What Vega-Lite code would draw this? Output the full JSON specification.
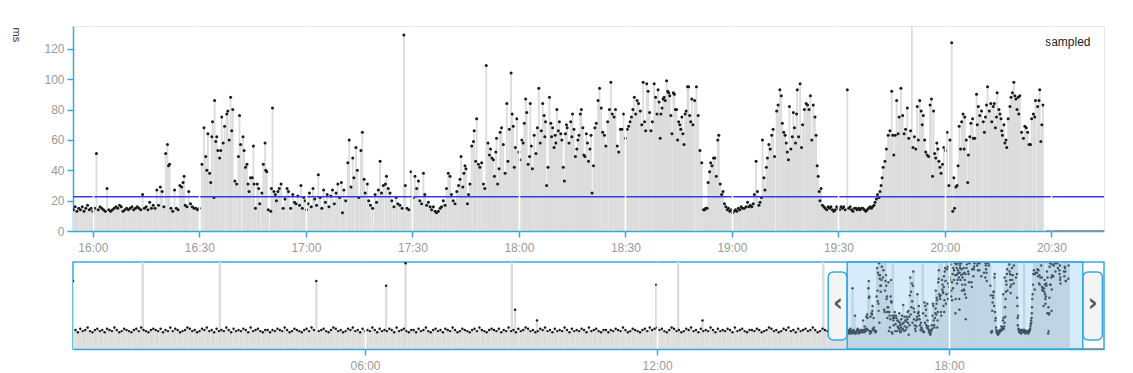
{
"$schema":"https://vega.github.io/schema/vega-lite/v6.json",
"padding":{"left":9,"top":25,"right":5,"bottom":5},
"background":"white",
"bounds":"flush",
"spacing":31,
"config":{"font":"Liberation Sans","axis":{"domainColor":"#36a9e1","domainWidth":1.5,"tickColor":"#36a9e1","tickWidth":1.5,"tickSize":6,"labelColor":"#9a9a9a","labelFontSize":12,"labelFont":"Liberation Sans","grid":false}},
"datasets":{
"idle":[{"m":1228.5,"v":0},{"m":1271,"v":0}],
"d":[
{"m":0,"v":57},{"m":86,"v":95},{"m":181,"v":90},{"m":300,"v":57},{"m":386,"v":53},{"m":410,"v":72},{"m":541,"v":95},{"m":545,"v":33},{"m":572,"v":24},{"m":719,"v":54},{"m":746,"v":92},{"m":776,"v":24},{"m":925,"v":90},
{"m":3,"v":16},{"m":6,"v":14},{"m":9,"v":17},{"m":12,"v":15},{"m":15,"v":16},{"m":18,"v":18},{"m":21,"v":15},{"m":24,"v":14},{"m":27,"v":16},{"m":30,"v":17},{"m":33,"v":15},{"m":36,"v":16},{"m":39,"v":14},{"m":42,"v":17},{"m":45,"v":16},{"m":48,"v":15},{"m":51,"v":18},{"m":54,"v":16},{"m":57,"v":14},{"m":60,"v":15},
{"m":63,"v":17},{"m":66,"v":16},{"m":69,"v":15},{"m":72,"v":14},{"m":75,"v":16},{"m":78,"v":17},{"m":81,"v":15},{"m":84,"v":18},{"m":87,"v":16},{"m":90,"v":15},{"m":93,"v":14},{"m":96,"v":16},{"m":99,"v":17},{"m":102,"v":16},{"m":105,"v":15},{"m":108,"v":17},{"m":111,"v":14},{"m":114,"v":16},{"m":117,"v":15},{"m":120,"v":18},
{"m":123,"v":15},{"m":126,"v":17},{"m":129,"v":16},{"m":132,"v":14},{"m":135,"v":15},{"m":138,"v":16},{"m":141,"v":18},{"m":144,"v":17},{"m":147,"v":15},{"m":150,"v":16},{"m":153,"v":14},{"m":156,"v":15},{"m":159,"v":17},{"m":162,"v":16},{"m":165,"v":18},{"m":168,"v":15},{"m":171,"v":16},{"m":174,"v":14},{"m":177,"v":17},{"m":180,"v":15},
{"m":183,"v":16},{"m":186,"v":15},{"m":189,"v":18},{"m":192,"v":16},{"m":195,"v":14},{"m":198,"v":17},{"m":201,"v":15},{"m":204,"v":16},{"m":207,"v":15},{"m":210,"v":17},{"m":213,"v":16},{"m":216,"v":14},{"m":219,"v":18},{"m":222,"v":15},{"m":225,"v":16},{"m":228,"v":17},{"m":231,"v":15},{"m":234,"v":14},{"m":237,"v":16},{"m":240,"v":16},
{"m":243,"v":14},{"m":246,"v":16},{"m":249,"v":15},{"m":252,"v":17},{"m":255,"v":16},{"m":258,"v":15},{"m":261,"v":18},{"m":264,"v":16},{"m":267,"v":14},{"m":270,"v":15},{"m":273,"v":17},{"m":276,"v":16},{"m":279,"v":15},{"m":282,"v":14},{"m":285,"v":16},{"m":288,"v":17},{"m":291,"v":15},{"m":294,"v":18},{"m":297,"v":16},{"m":303,"v":15},
{"m":306,"v":16},{"m":309,"v":17},{"m":312,"v":15},{"m":315,"v":14},{"m":318,"v":16},{"m":321,"v":18},{"m":324,"v":17},{"m":327,"v":15},{"m":330,"v":16},{"m":333,"v":14},{"m":336,"v":15},{"m":339,"v":17},{"m":342,"v":16},{"m":345,"v":18},{"m":348,"v":15},{"m":351,"v":16},{"m":354,"v":14},{"m":357,"v":17},{"m":360,"v":15},{"m":363,"v":16},
{"m":366,"v":15},{"m":369,"v":18},{"m":372,"v":16},{"m":375,"v":14},{"m":378,"v":17},{"m":381,"v":15},{"m":384,"v":16},{"m":387,"v":15},{"m":390,"v":17},{"m":393,"v":16},{"m":396,"v":14},{"m":399,"v":18},{"m":402,"v":15},{"m":405,"v":16},{"m":408,"v":17},{"m":411,"v":15},{"m":414,"v":14},{"m":417,"v":16},{"m":420,"v":16},{"m":423,"v":14},
{"m":426,"v":17},{"m":429,"v":15},{"m":432,"v":16},{"m":435,"v":18},{"m":438,"v":15},{"m":441,"v":14},{"m":444,"v":16},{"m":447,"v":17},{"m":450,"v":15},{"m":453,"v":16},{"m":456,"v":14},{"m":459,"v":17},{"m":462,"v":16},{"m":465,"v":15},{"m":468,"v":18},{"m":471,"v":16},{"m":474,"v":14},{"m":477,"v":15},{"m":480,"v":17},{"m":483,"v":16},
{"m":486,"v":15},{"m":489,"v":14},{"m":492,"v":16},{"m":495,"v":17},{"m":498,"v":15},{"m":501,"v":18},{"m":504,"v":16},{"m":507,"v":15},{"m":510,"v":14},{"m":513,"v":16},{"m":516,"v":17},{"m":519,"v":16},{"m":522,"v":15},{"m":525,"v":17},{"m":528,"v":14},{"m":531,"v":16},{"m":534,"v":15},{"m":537,"v":18},{"m":540,"v":15},{"m":543,"v":16},
{"m":546,"v":14},{"m":549,"v":17},{"m":552,"v":15},{"m":555,"v":16},{"m":558,"v":18},{"m":561,"v":17},{"m":564,"v":15},{"m":567,"v":16},{"m":570,"v":14},{"m":573,"v":15},{"m":576,"v":17},{"m":579,"v":16},{"m":582,"v":18},{"m":585,"v":15},{"m":588,"v":16},{"m":591,"v":14},{"m":594,"v":17},{"m":597,"v":15},{"m":600,"v":16},{"m":603,"v":15},
{"m":606,"v":18},{"m":609,"v":16},{"m":612,"v":14},{"m":615,"v":17},{"m":618,"v":15},{"m":621,"v":16},{"m":624,"v":15},{"m":627,"v":17},{"m":630,"v":16},{"m":633,"v":14},{"m":636,"v":18},{"m":639,"v":15},{"m":642,"v":16},{"m":645,"v":17},{"m":648,"v":15},{"m":651,"v":14},{"m":654,"v":16},{"m":657,"v":16},{"m":660,"v":14},{"m":663,"v":16},
{"m":666,"v":15},{"m":669,"v":17},{"m":672,"v":16},{"m":675,"v":15},{"m":678,"v":18},{"m":681,"v":16},{"m":684,"v":14},{"m":687,"v":15},{"m":690,"v":17},{"m":693,"v":16},{"m":696,"v":15},{"m":699,"v":14},{"m":702,"v":16},{"m":705,"v":17},{"m":708,"v":15},{"m":711,"v":18},{"m":714,"v":16},{"m":717,"v":17},{"m":720,"v":18},{"m":723,"v":16},
{"m":726,"v":17},{"m":729,"v":15},{"m":732,"v":14},{"m":735,"v":16},{"m":738,"v":18},{"m":741,"v":17},{"m":744,"v":15},{"m":747,"v":16},{"m":750,"v":14},{"m":753,"v":15},{"m":756,"v":17},{"m":759,"v":16},{"m":762,"v":18},{"m":765,"v":15},{"m":768,"v":16},{"m":771,"v":14},{"m":774,"v":17},{"m":777,"v":15},{"m":780,"v":16},{"m":783,"v":15},
{"m":786,"v":18},{"m":789,"v":16},{"m":792,"v":14},{"m":795,"v":17},{"m":798,"v":15},{"m":801,"v":16},{"m":804,"v":15},{"m":807,"v":17},{"m":810,"v":16},{"m":813,"v":14},{"m":816,"v":18},{"m":819,"v":15},{"m":822,"v":16},{"m":825,"v":17},{"m":828,"v":15},{"m":831,"v":14},{"m":834,"v":16},{"m":837,"v":16},{"m":840,"v":15},{"m":843,"v":17},
{"m":846,"v":16},{"m":849,"v":14},{"m":852,"v":15},{"m":855,"v":16},{"m":858,"v":18},{"m":861,"v":17},{"m":864,"v":15},{"m":867,"v":16},{"m":870,"v":14},{"m":873,"v":15},{"m":876,"v":17},{"m":879,"v":16},{"m":882,"v":18},{"m":885,"v":15},{"m":888,"v":16},{"m":891,"v":14},{"m":894,"v":17},{"m":897,"v":15},{"m":900,"v":16},{"m":903,"v":17},
{"m":906,"v":15},{"m":909,"v":16},{"m":912,"v":18},{"m":915,"v":16},{"m":918,"v":14},{"m":921,"v":15},{"m":924,"v":17},{"m":927,"v":16},{"m":930,"v":15},{"m":933,"v":14},{"m":936,"v":16},{"m":939,"v":17},{"m":942,"v":15},{"m":945,"v":18},{"m":948,"v":16},{"m":951,"v":15},
{"m":954.5,"v":14},{"m":955,"v":16},{"m":955.5,"v":13},{"m":956,"v":15},{"m":956.5,"v":14},{"m":957,"v":16},{"m":957.5,"v":13},{"m":958,"v":15},{"m":958.5,"v":17},{"m":959,"v":14},{"m":959.5,"v":15},{"m":960,"v":13},{"m":960.5,"v":15},{"m":961,"v":51},{"m":961.5,"v":14},{"m":962,"v":16},{"m":962.5,"v":15},{"m":963,"v":14},{"m":963.5,"v":13},{"m":964,"v":28},{"m":964.5,"v":14},{"m":965,"v":13},{"m":965.5,"v":14},{"m":966,"v":15},{"m":966.5,"v":16},{"m":967,"v":15},{"m":967.5,"v":17},{"m":968,"v":16},{"m":968.5,"v":13},{"m":969,"v":14},{"m":969.5,"v":15},{"m":970,"v":14},{"m":970.5,"v":15},{"m":971,"v":16},{"m":971.5,"v":14},{"m":972,"v":15},{"m":972.5,"v":16},{"m":973,"v":15},{"m":973.5,"v":14},{"m":974,"v":24},{"m":974.5,"v":15},{"m":975,"v":16},{"m":975.5,"v":14},{"m":976,"v":19},{"m":976.5,"v":15},{"m":977,"v":17},{"m":977.5,"v":15},{"m":978,"v":27},{"m":978.5,"v":17},{"m":979,"v":29},{"m":979.5,"v":26},{"m":980,"v":16},{"m":980.5,"v":51},{"m":981,"v":57},{"m":981.3,"v":43},{"m":981.6,"v":44},{"m":982,"v":15},{"m":982.5,"v":13},{"m":983,"v":27},{"m":983.5,"v":15},{"m":984,"v":14},{"m":984.5,"v":30},{"m":985,"v":29},{"m":985.4,"v":32},{"m":985.7,"v":36},{"m":986,"v":17},{"m":986.5,"v":16},{"m":987,"v":26},{"m":987.5,"v":18},{"m":988,"v":16},{"m":988.5,"v":15},{"m":989,"v":15},{"m":989.5,"v":14},{"m":990,"v":15},
{"m":990.7,"v":44},{"m":991.3,"v":68},{"m":991.8,"v":49},{"m":992.1,"v":40},{"m":992.4,"v":64},{"m":992.9,"v":38},{"m":993.2,"v":32},{"m":993.5,"v":62},{"m":993.7,"v":72},{"m":994.1,"v":22},{"m":994.3,"v":86},{"m":994.6,"v":59},{"m":994.9,"v":62},{"m":995.2,"v":53},{"m":995.7,"v":48},{"m":996,"v":53},{"m":996.3,"v":75},{"m":996.7,"v":58},{"m":997.1,"v":69},{"m":997.7,"v":77},{"m":998,"v":79},{"m":998.4,"v":60},{"m":998.8,"v":88},{"m":999.1,"v":66},{"m":999.4,"v":80},{"m":1000,"v":33},{"m":1000.5,"v":31},{"m":1001,"v":49},{"m":1001.3,"v":76},{"m":1001.6,"v":57},{"m":1002.3,"v":62},{"m":1002.6,"v":53},{"m":1003,"v":42},{"m":1003.4,"v":44},{"m":1003.7,"v":31},{"m":1004,"v":26},{"m":1004.4,"v":35},{"m":1004.9,"v":35},{"m":1005.2,"v":56},{"m":1005.4,"v":31},{"m":1005.8,"v":15},{"m":1006.3,"v":31},{"m":1006.7,"v":28},{"m":1007,"v":18},{"m":1007.6,"v":25},{"m":1008,"v":44},{"m":1008.5,"v":58},{"m":1008.7,"v":40},{"m":1009,"v":39},{"m":1009.4,"v":14},{"m":1010.1,"v":13},{"m":1010.3,"v":28},{"m":1010.6,"v":81},{"m":1011,"v":26},{"m":1011.4,"v":24},{"m":1011.7,"v":20},{"m":1012.1,"v":26},{"m":1012.5,"v":28},{"m":1013,"v":31},{"m":1013.6,"v":15},{"m":1014.1,"v":21},{"m":1014.7,"v":28},{"m":1015.1,"v":26},{"m":1015.7,"v":15},{"m":1016.3,"v":24},{"m":1016.8,"v":19},{"m":1017.2,"v":18},{"m":1017.7,"v":23},
{"m":1018.2,"v":17},{"m":1018.6,"v":30},{"m":1019,"v":15},{"m":1019.4,"v":22},{"m":1019.8,"v":20},{"m":1020.2,"v":14},{"m":1020.6,"v":18},{"m":1021,"v":25},{"m":1021.5,"v":16},{"m":1022,"v":28},{"m":1022.5,"v":21},{"m":1023,"v":17},{"m":1023.5,"v":37},{"m":1024,"v":22},{"m":1024.5,"v":15},{"m":1025,"v":27},{"m":1025.5,"v":19},{"m":1026,"v":24},{"m":1026.5,"v":16},{"m":1027,"v":23},{"m":1027.5,"v":27},{"m":1028,"v":18},{"m":1028.5,"v":25},{"m":1029,"v":31},{"m":1029.5,"v":22},{"m":1030,"v":32},{"m":1030.3,"v":12},{"m":1030.7,"v":27},{"m":1031.2,"v":20},
{"m":1031.8,"v":45},{"m":1032.2,"v":60},{"m":1032.7,"v":29},{"m":1033.2,"v":48},{"m":1033.5,"v":35},{"m":1034.1,"v":55},{"m":1034.5,"v":40},{"m":1034.9,"v":22},{"m":1035.5,"v":53},{"m":1035.9,"v":65},{"m":1036.4,"v":34},{"m":1036.7,"v":25},{"m":1037.3,"v":31},{"m":1037.7,"v":20},{"m":1038.2,"v":17},{"m":1038.8,"v":15},{"m":1039.5,"v":24},{"m":1039.9,"v":19},{"m":1040.4,"v":27},{"m":1040.9,"v":46},{"m":1041.3,"v":25},{"m":1041.8,"v":30},{"m":1042.4,"v":31},{"m":1042.7,"v":36},{"m":1043.2,"v":28},{"m":1043.7,"v":25},{"m":1044.2,"v":20},{"m":1044.8,"v":16},{"m":1045.4,"v":22},{"m":1045.9,"v":18},{"m":1046.5,"v":17},{"m":1047.1,"v":15},{"m":1047.6,"v":129},{"m":1048,"v":30},{"m":1048.5,"v":15},{"m":1049,"v":14},
{"m":1049.6,"v":39},{"m":1050.3,"v":22},{"m":1050.7,"v":36},{"m":1051.2,"v":28},{"m":1051.7,"v":33},{"m":1052.1,"v":20},{"m":1052.6,"v":18},{"m":1053.1,"v":38},{"m":1053.5,"v":24},{"m":1054,"v":17},{"m":1054.5,"v":19},{"m":1055,"v":16},{"m":1055.4,"v":14},{"m":1055.9,"v":16},{"m":1056.4,"v":13},{"m":1056.8,"v":12},{"m":1057.3,"v":13},{"m":1057.8,"v":15},{"m":1058.2,"v":16},{"m":1058.7,"v":20},{"m":1059.2,"v":17},{"m":1059.6,"v":28},
{"m":1060.1,"v":38},{"m":1060.6,"v":36},{"m":1061,"v":24},{"m":1061.5,"v":20},{"m":1062,"v":18},{"m":1062.5,"v":26},{"m":1063,"v":30},{"m":1063.4,"v":34},{"m":1063.7,"v":49},{"m":1064.2,"v":29},{"m":1064.5,"v":38},{"m":1064.8,"v":43},{"m":1065.1,"v":41},{"m":1065.5,"v":18},{"m":1065.8,"v":24},{"m":1066.2,"v":31},{"m":1066.7,"v":56},{"m":1067.2,"v":59},{"m":1067.4,"v":66},{"m":1067.8,"v":46},{"m":1068.1,"v":74},{"m":1068.6,"v":44},{"m":1069,"v":42},
{"m":1069.5,"v":45},{"m":1070,"v":31},{"m":1070.4,"v":28},{"m":1070.8,"v":109},{"m":1071.3,"v":58},{"m":1071.7,"v":50},{"m":1072,"v":54},{"m":1072.4,"v":48},{"m":1072.8,"v":47},{"m":1073.1,"v":36},{"m":1073.5,"v":52},{"m":1073.7,"v":61},{"m":1074,"v":31},{"m":1074.4,"v":41},{"m":1074.7,"v":65},{"m":1075.1,"v":68},{"m":1075.6,"v":57},{"m":1076.1,"v":38},{"m":1076.6,"v":84},{"m":1076.9,"v":46},{"m":1077.3,"v":67},{"m":1077.8,"v":104},{"m":1078.1,"v":77},{"m":1078.4,"v":69},
{"m":1078.7,"v":42},{"m":1079,"v":55},{"m":1079.4,"v":74},{"m":1080,"v":52},{"m":1080.3,"v":47},{"m":1080.8,"v":60},{"m":1081.2,"v":58},{"m":1081.5,"v":71},{"m":1081.9,"v":87},{"m":1082.2,"v":78},{"m":1082.6,"v":44},{"m":1083,"v":49},{"m":1083.2,"v":84},{"m":1083.5,"v":56},{"m":1083.8,"v":41},{"m":1084.3,"v":63},{"m":1084.8,"v":51},{"m":1085.2,"v":68},{"m":1085.6,"v":94},{"m":1086,"v":58},{"m":1086.3,"v":66},{"m":1086.7,"v":84},{"m":1087.1,"v":76},{"m":1087.3,"v":62},{"m":1087.5,"v":72},{"m":1087.8,"v":30},
{"m":1088.2,"v":42},{"m":1088.6,"v":88},{"m":1089,"v":71},{"m":1089.2,"v":62},{"m":1089.5,"v":68},{"m":1089.9,"v":55},{"m":1090.2,"v":63},{"m":1090.4,"v":58},{"m":1090.7,"v":80},{"m":1091.1,"v":66},{"m":1091.4,"v":72},{"m":1091.8,"v":64},{"m":1092.1,"v":60},{"m":1092.5,"v":42},{"m":1092.8,"v":33},{"m":1093.1,"v":64},{"m":1093.4,"v":70},{"m":1093.6,"v":68},{"m":1094.1,"v":58},{"m":1094.6,"v":72},{"m":1094.9,"v":62},{"m":1095.1,"v":77},{"m":1095.5,"v":67},{"m":1095.9,"v":49},{"m":1096.3,"v":54},{"m":1096.6,"v":60},{"m":1096.9,"v":63},
{"m":1097.3,"v":77},{"m":1097.6,"v":80},{"m":1098,"v":68},{"m":1098.3,"v":50},{"m":1098.6,"v":49},{"m":1099,"v":64},{"m":1099.3,"v":58},{"m":1099.6,"v":46},{"m":1100,"v":54},{"m":1100.3,"v":63},{"m":1100.6,"v":25},{"m":1101,"v":43},
{"m":1101.4,"v":68},{"m":1101.8,"v":71},{"m":1102.3,"v":86},{"m":1102.7,"v":94},{"m":1103.2,"v":81},{"m":1103.6,"v":65},{"m":1104.1,"v":63},{"m":1104.5,"v":56},{"m":1105,"v":72},{"m":1105.5,"v":80},{"m":1105.9,"v":98},{"m":1106.3,"v":77},{"m":1106.8,"v":75},{"m":1107.2,"v":80},{"m":1107.7,"v":56},{"m":1108.1,"v":52},{"m":1108.6,"v":67},{"m":1109,"v":67},{"m":1109.5,"v":77},{"m":1110,"v":61},
{"m":1110.5,"v":67},{"m":1110.9,"v":69},{"m":1111.3,"v":72},{"m":1111.7,"v":75},{"m":1112.1,"v":80},{"m":1112.5,"v":88},{"m":1112.9,"v":77},{"m":1113.3,"v":86},{"m":1113.7,"v":84},{"m":1114.2,"v":79},{"m":1114.6,"v":70},{"m":1115,"v":98},{"m":1115.4,"v":72},{"m":1115.7,"v":66},{"m":1116,"v":97},{"m":1116.4,"v":92},{"m":1116.8,"v":78},{"m":1117.2,"v":66},{"m":1117.6,"v":72},{"m":1118.1,"v":97},{"m":1118.5,"v":88},{"m":1118.9,"v":77},{"m":1119.2,"v":93},{"m":1119.5,"v":85},{"m":1119.8,"v":61},
{"m":1120,"v":77},{"m":1120.3,"v":81},{"m":1120.6,"v":87},{"m":1120.9,"v":88},{"m":1121.2,"v":86},{"m":1121.6,"v":99},{"m":1121.9,"v":92},{"m":1122.2,"v":91},{"m":1122.5,"v":89},{"m":1122.8,"v":76},{"m":1123.1,"v":64},{"m":1123.5,"v":91},{"m":1123.8,"v":90},{"m":1124.1,"v":80},{"m":1124.4,"v":80},{"m":1124.7,"v":60},{"m":1125,"v":72},{"m":1125.3,"v":70},{"m":1125.6,"v":67},{"m":1125.9,"v":75},{"m":1126.2,"v":64},{"m":1126.5,"v":57},{"m":1126.8,"v":77},{"m":1127.1,"v":79},{"m":1127.5,"v":95},{"m":1127.8,"v":95},{"m":1128.1,"v":76},{"m":1128.4,"v":72},{"m":1128.7,"v":87},{"m":1129,"v":70},
{"m":1129.5,"v":86},{"m":1130,"v":95},{"m":1130.5,"v":76},{"m":1131,"v":53},{"m":1131.5,"v":45},{"m":1132,"v":14},{"m":1132.3,"v":14},{"m":1132.6,"v":15},{"m":1133,"v":15},{"m":1133.3,"v":32},{"m":1133.7,"v":39},{"m":1134,"v":45},{"m":1134.4,"v":43},{"m":1134.8,"v":48},{"m":1135.2,"v":48},{"m":1135.6,"v":36},{"m":1136,"v":60},{"m":1136.3,"v":63},{"m":1136.7,"v":31},{"m":1137.1,"v":24},{"m":1137.5,"v":26},{"m":1137.9,"v":18},
{"m":1138.3,"v":16},{"m":1138.7,"v":14},{"m":1139,"v":15},{"m":1139.4,"v":13},{"m":1139.8,"v":14},{"m":1140.2,"v":12},{"m":1140.6,"v":13},{"m":1141,"v":14},{"m":1141.4,"v":13},{"m":1141.8,"v":15},{"m":1142.2,"v":14},{"m":1142.6,"v":16},{"m":1143,"v":15},{"m":1143.5,"v":15},{"m":1144,"v":16},{"m":1144.4,"v":19},{"m":1144.8,"v":16},{"m":1145.2,"v":17},{"m":1145.6,"v":16},{"m":1146,"v":18},{"m":1146.3,"v":24},{"m":1146.8,"v":46},{"m":1147.2,"v":26},{"m":1147.6,"v":17},{"m":1147.9,"v":19},
{"m":1148.3,"v":22},{"m":1148.6,"v":60},{"m":1149,"v":35},{"m":1149.3,"v":27},{"m":1149.7,"v":42},{"m":1150,"v":48},{"m":1150.4,"v":57},{"m":1150.8,"v":54},{"m":1151.2,"v":63},{"m":1151.6,"v":67},{"m":1152,"v":49},{"m":1152.6,"v":79},{"m":1153,"v":83},{"m":1153.5,"v":93},{"m":1153.9,"v":89},{"m":1154.2,"v":71},{"m":1154.6,"v":65},{"m":1155,"v":63},{"m":1155.3,"v":58},{"m":1155.6,"v":52},{"m":1155.9,"v":47},{"m":1156.2,"v":82},{"m":1156.6,"v":54},{"m":1157,"v":62},{"m":1157.3,"v":78},
{"m":1157.6,"v":68},{"m":1157.9,"v":58},{"m":1158.2,"v":77},{"m":1158.4,"v":93},{"m":1158.8,"v":62},{"m":1159.2,"v":97},{"m":1159.6,"v":55},{"m":1159.9,"v":70},{"m":1160.4,"v":80},{"m":1160.9,"v":84},{"m":1161.3,"v":83},{"m":1161.7,"v":80},{"m":1162.1,"v":89},{"m":1162.5,"v":60},{"m":1162.9,"v":83},{"m":1163.4,"v":75},{"m":1163.7,"v":63},{"m":1164,"v":43},{"m":1164.3,"v":36},{"m":1164.6,"v":26},{"m":1164.8,"v":20},{"m":1165.1,"v":28},{"m":1165.5,"v":17},
{"m":1165.9,"v":16},{"m":1166.3,"v":15},{"m":1166.7,"v":14},{"m":1167.1,"v":16},{"m":1167.5,"v":15},{"m":1167.9,"v":16},{"m":1168.3,"v":14},{"m":1168.7,"v":13},{"m":1169.1,"v":14},{"m":1169.5,"v":16},{"m":1169.9,"v":15},{"m":1170.3,"v":14},{"m":1170.7,"v":16},{"m":1171.1,"v":15},{"m":1171.5,"v":16},{"m":1171.9,"v":14},{"m":1172.5,"v":93},{"m":1172.9,"v":15},{"m":1173.3,"v":16},{"m":1173.7,"v":14},{"m":1174.1,"v":13},{"m":1174.5,"v":15},{"m":1174.9,"v":15},{"m":1175.3,"v":14},{"m":1175.7,"v":15},{"m":1176.1,"v":14},{"m":1176.5,"v":15},{"m":1176.9,"v":15},{"m":1177.3,"v":14},{"m":1177.7,"v":13},{"m":1178.1,"v":14},{"m":1178.5,"v":15},{"m":1178.9,"v":16},{"m":1179.3,"v":15},{"m":1179.6,"v":16},{"m":1180,"v":17},{"m":1180.3,"v":19},{"m":1180.7,"v":21},{"m":1181,"v":24},{"m":1181.4,"v":22},{"m":1181.7,"v":26},{"m":1182,"v":30},{"m":1182.3,"v":35},{"m":1182.6,"v":42},
{"m":1183.1,"v":46},{"m":1183.5,"v":54},{"m":1184,"v":63},{"m":1184.5,"v":66},{"m":1185,"v":92},{"m":1185.3,"v":63},{"m":1185.6,"v":50},{"m":1186,"v":63},{"m":1186.4,"v":86},{"m":1186.8,"v":64},{"m":1187.1,"v":75},{"m":1187.6,"v":94},{"m":1188.1,"v":76},{"m":1188.5,"v":64},{"m":1188.9,"v":67},{"m":1189.4,"v":81},{"m":1189.8,"v":61},{"m":1190.3,"v":66},{"m":1190.7,"v":150},{"m":1191,"v":55},{"m":1191.4,"v":62},{"m":1191.8,"v":54},{"m":1192.2,"v":82},{"m":1192.5,"v":60},{"m":1192.9,"v":86},{"m":1193.3,"v":79},{"m":1193.6,"v":70},{"m":1193.9,"v":76},
{"m":1194.3,"v":60},{"m":1194.6,"v":52},{"m":1195,"v":50},{"m":1195.4,"v":49},{"m":1195.8,"v":83},{"m":1196.2,"v":87},{"m":1196.5,"v":36},{"m":1196.8,"v":79},{"m":1197.1,"v":51},{"m":1197.4,"v":48},{"m":1197.7,"v":58},{"m":1198,"v":54},{"m":1198.3,"v":46},{"m":1198.6,"v":42},{"m":1198.9,"v":38},{"m":1199.3,"v":44},{"m":1199.7,"v":55},{"m":1200.1,"v":53},{"m":1200.6,"v":65},{"m":1201.1,"v":30},{"m":1201.4,"v":60},
{"m":1201.9,"v":124},{"m":1202.2,"v":13},{"m":1202.5,"v":35},{"m":1202.7,"v":15},{"m":1203.1,"v":29},{"m":1203.4,"v":30},{"m":1203.7,"v":43},{"m":1204,"v":69},
{"m":1204.4,"v":54},{"m":1204.7,"v":72},{"m":1205.1,"v":77},{"m":1205.4,"v":54},{"m":1205.6,"v":75},{"m":1206,"v":60},{"m":1206.4,"v":32},{"m":1206.6,"v":50},{"m":1207,"v":62},{"m":1207.3,"v":71},{"m":1207.8,"v":74},{"m":1208,"v":61},{"m":1208.4,"v":61},{"m":1208.9,"v":90},{"m":1209.1,"v":70},{"m":1209.4,"v":82},{"m":1209.8,"v":76},{"m":1210.3,"v":79},{"m":1210.8,"v":72},{"m":1211.1,"v":65},{"m":1211.4,"v":75},{"m":1211.7,"v":83},{"m":1212,"v":95},{"m":1212.5,"v":79},{"m":1212.9,"v":84},{"m":1213.2,"v":72},{"m":1213.6,"v":82},{"m":1213.9,"v":84},{"m":1214.2,"v":68},{"m":1214.5,"v":75},{"m":1214.7,"v":91},{"m":1215.2,"v":80},{"m":1215.5,"v":77},
{"m":1215.8,"v":74},{"m":1216,"v":66},{"m":1216.2,"v":63},{"m":1216.6,"v":70},{"m":1216.9,"v":58},{"m":1217.2,"v":60},{"m":1217.4,"v":55},{"m":1217.8,"v":74},{"m":1218.3,"v":82},{"m":1218.6,"v":88},{"m":1219,"v":91},{"m":1219.4,"v":98},{"m":1219.7,"v":89},{"m":1220,"v":87},{"m":1220.3,"v":80},{"m":1220.6,"v":88},{"m":1220.8,"v":77},{"m":1221.1,"v":89},{"m":1221.6,"v":65},{"m":1222.1,"v":61},{"m":1222.5,"v":69},{"m":1222.9,"v":68},{"m":1223.3,"v":65},{"m":1223.7,"v":57},{"m":1224.1,"v":57},{"m":1224.4,"v":74},{"m":1224.9,"v":77},{"m":1225.3,"v":75},{"m":1225.5,"v":86},{"m":1226.1,"v":82},{"m":1226.5,"v":86},{"m":1226.7,"v":93},{"m":1227,"v":59},{"m":1227.3,"v":70},{"m":1227.6,"v":83}
]},
"vconcat":[
{"width":1031,"height":205,
"view":{"stroke":"#e6e6e6"},
"layer":[
{"data":{"name":"d"},"mark":{"type":"rule","color":"#dcdcdc","strokeWidth":1.8,"clip":true},
"encoding":{"x":{"field":"m","type":"quantitative","title":null,"scale":{"domain":[954.4,1244.8],"nice":false,"zero":false},
"axis":{"values":[960,990,1020,1050,1080,1110,1140,1170,1200,1230],"labelExpr":"(floor(datum.value/60)<10?'0':'')+floor(datum.value/60)+':'+(datum.value%60<10?'0':'')+(datum.value%60)","grid":true,"gridColor":"white","gridWidth":1.5,"zindex":1,"labelPadding":5,"labelFlush":false}},
"y":{"field":"v","type":"quantitative","title":"ms","scale":{"domain":[0,135],"nice":false},
"axis":{"values":[0,20,40,60,80,100,120],"labelOverlap":false,"labelPadding":3,"titleAngle":90,"titleAlign":"left","titleBaseline":"alphabetic","titleX":-61,"titleY":1,"titleFontSize":11,"titleFontWeight":"normal","titleColor":"#333"}},
"y2":{"datum":0}}},
{"data":{"name":"d"},"mark":{"type":"point","filled":true,"size":9,"color":"#1a1a1a","opacity":1,"clip":true},
"encoding":{"x":{"field":"m","type":"quantitative","title":null,
"axis":{"values":[960,990,1020,1050,1080,1110,1140,1170,1200,1230],"labelExpr":"(floor(datum.value/60)<10?'0':'')+floor(datum.value/60)+':'+(datum.value%60<10?'0':'')+(datum.value%60)","grid":true,"gridColor":"white","gridWidth":1.5,"zindex":1,"labelPadding":5,"labelFlush":false}},
"y":{"field":"v","type":"quantitative","title":"ms",
"axis":{"values":[0,20,40,60,80,100,120],"labelOverlap":false,"labelPadding":3,"titleAngle":90,"titleAlign":"left","titleBaseline":"alphabetic","titleX":-61,"titleY":1,"titleFontSize":11,"titleFontWeight":"normal","titleColor":"#333"}}}},
{"data":{"name":"idle"},"mark":{"type":"line","color":"#f07a5a","strokeWidth":2,"clip":true},
"encoding":{"x":{"field":"m","type":"quantitative","title":null,
"axis":{"values":[960,990,1020,1050,1080,1110,1140,1170,1200,1230],"labelExpr":"(floor(datum.value/60)<10?'0':'')+floor(datum.value/60)+':'+(datum.value%60<10?'0':'')+(datum.value%60)","grid":true,"gridColor":"white","gridWidth":1.5,"zindex":1,"labelPadding":5,"labelFlush":false}},
"y":{"field":"v","type":"quantitative","title":"ms",
"axis":{"values":[0,20,40,60,80,100,120],"labelOverlap":false,"labelPadding":3,"titleAngle":90,"titleAlign":"left","titleBaseline":"alphabetic","titleX":-61,"titleY":1,"titleFontSize":11,"titleFontWeight":"normal","titleColor":"#333"}}}},
{"data":{"values":[{}]},"mark":{"type":"rule","color":"#3a3ae0","strokeWidth":1.5},
"encoding":{"y":{"datum":22.5,"type":"quantitative","title":"ms",
"axis":{"values":[0,20,40,60,80,100,120],"labelOverlap":false,"labelPadding":3,"titleAngle":90,"titleAlign":"left","titleBaseline":"alphabetic","titleX":-61,"titleY":1,"titleFontSize":11,"titleFontWeight":"normal","titleColor":"#333"}}}},
{"data":{"values":[{}]},"mark":{"type":"text","align":"right","baseline":"middle","fontSize":12,"color":"#222"},
"encoding":{"x":{"datum":1241,"type":"quantitative","title":null,
"axis":{"values":[960,990,1020,1050,1080,1110,1140,1170,1200,1230],"labelExpr":"(floor(datum.value/60)<10?'0':'')+floor(datum.value/60)+':'+(datum.value%60<10?'0':'')+(datum.value%60)","grid":true,"gridColor":"white","gridWidth":1.5,"zindex":1,"labelPadding":5,"labelFlush":false}},
"y":{"datum":124.4,"type":"quantitative","title":"ms",
"axis":{"values":[0,20,40,60,80,100,120],"labelOverlap":false,"labelPadding":3,"titleAngle":90,"titleAlign":"left","titleBaseline":"alphabetic","titleX":-61,"titleY":1,"titleFontSize":11,"titleFontWeight":"normal","titleColor":"#333"}},
"text":{"value":"sampled"}}}
]},
{"width":1031,"height":87,
"view":{"stroke":"#36a9e1","strokeWidth":1.5},
"layer":[
{"data":{"name":"d"},"mark":{"type":"rule","color":"#dcdcdc","strokeWidth":2.4,"clip":true},
"encoding":{"x":{"field":"m","type":"quantitative","title":null,"scale":{"domain":[0,1271],"nice":false,"zero":false},
"axis":{"values":[360,720,1080],"labelExpr":"(floor(datum.value/60)<10?'0':'')+floor(datum.value/60)+':'+(datum.value%60<10?'0':'')+(datum.value%60)","grid":true,"gridColor":"white","gridWidth":1.5,"zindex":1,"labelPadding":5,"labelFlush":false}},
"y":{"field":"v","type":"quantitative","scale":{"domain":[0,73],"nice":false},"axis":null},
"y2":{"datum":0}}},
{"data":{"name":"d"},"mark":{"type":"point","filled":true,"size":6,"color":"#1a1a1a","opacity":1,"clip":true},
"encoding":{"x":{"field":"m","type":"quantitative","title":null,
"axis":{"values":[360,720,1080],"labelExpr":"(floor(datum.value/60)<10?'0':'')+floor(datum.value/60)+':'+(datum.value%60<10?'0':'')+(datum.value%60)","grid":true,"gridColor":"white","gridWidth":1.5,"zindex":1,"labelPadding":5,"labelFlush":false}},
"y":{"field":"v","type":"quantitative","axis":null}}},
{"data":{"name":"idle"},"mark":{"type":"line","color":"#f07a5a","strokeWidth":2,"clip":true},
"encoding":{"x":{"field":"m","type":"quantitative","title":null,
"axis":{"values":[360,720,1080],"labelExpr":"(floor(datum.value/60)<10?'0':'')+floor(datum.value/60)+':'+(datum.value%60<10?'0':'')+(datum.value%60)","grid":true,"gridColor":"white","gridWidth":1.5,"zindex":1,"labelPadding":5,"labelFlush":false}},
"y":{"field":"v","type":"quantitative","axis":null}}},
{"data":{"values":[{}]},"mark":{"type":"rect","fill":"#8cc8f0","fillOpacity":0.35,"stroke":"#36a9e1","strokeWidth":1.5},
"encoding":{"x":{"datum":954.4,"type":"quantitative","title":null,
"axis":{"values":[360,720,1080],"labelExpr":"(floor(datum.value/60)<10?'0':'')+floor(datum.value/60)+':'+(datum.value%60<10?'0':'')+(datum.value%60)","grid":true,"gridColor":"white","gridWidth":1.5,"zindex":1,"labelPadding":5,"labelFlush":false}},
"x2":{"datum":1244.8}}},
{"data":{"values":[{}]},"mark":{"type":"rect","fill":"#f4f4f4","stroke":"#36a9e1","strokeWidth":1.5,"cornerRadius":5},
"encoding":{"x":{"datum":931,"type":"quantitative","title":null,
"axis":{"values":[360,720,1080],"labelExpr":"(floor(datum.value/60)<10?'0':'')+floor(datum.value/60)+':'+(datum.value%60<10?'0':'')+(datum.value%60)","grid":true,"gridColor":"white","gridWidth":1.5,"zindex":1,"labelPadding":5,"labelFlush":false}},
"x2":{"datum":954},"y":{"datum":64.7,"type":"quantitative","axis":null},"y2":{"datum":7.6}}},
{"data":{"values":[{}]},"mark":{"type":"rect","fill":"#f4f4f4","stroke":"#36a9e1","strokeWidth":1.5,"cornerRadius":5},
"encoding":{"x":{"datum":1245.2,"type":"quantitative","title":null,
"axis":{"values":[360,720,1080],"labelExpr":"(floor(datum.value/60)<10?'0':'')+floor(datum.value/60)+':'+(datum.value%60<10?'0':'')+(datum.value%60)","grid":true,"gridColor":"white","gridWidth":1.5,"zindex":1,"labelPadding":5,"labelFlush":false}},
"x2":{"datum":1269},"y":{"datum":64.7,"type":"quantitative","axis":null},"y2":{"datum":7.6}}},
{"data":{"values":[{}]},"mark":{"type":"text","fontSize":24,"fontWeight":"bold","color":"#555","font":"DejaVu Sans","baseline":"middle","align":"center","dy":-2},
"encoding":{"x":{"datum":943,"type":"quantitative","title":null,
"axis":{"values":[360,720,1080],"labelExpr":"(floor(datum.value/60)<10?'0':'')+floor(datum.value/60)+':'+(datum.value%60<10?'0':'')+(datum.value%60)","grid":true,"gridColor":"white","gridWidth":1.5,"zindex":1,"labelPadding":5,"labelFlush":false}},
"y":{"datum":36,"type":"quantitative","axis":null},"text":{"value":"‹"}}},
{"data":{"values":[{}]},"mark":{"type":"text","fontSize":24,"fontWeight":"bold","color":"#555","font":"DejaVu Sans","baseline":"middle","align":"center","dy":-2},
"encoding":{"x":{"datum":1257,"type":"quantitative","title":null,
"axis":{"values":[360,720,1080],"labelExpr":"(floor(datum.value/60)<10?'0':'')+floor(datum.value/60)+':'+(datum.value%60<10?'0':'')+(datum.value%60)","grid":true,"gridColor":"white","gridWidth":1.5,"zindex":1,"labelPadding":5,"labelFlush":false}},
"y":{"datum":36,"type":"quantitative","axis":null},"text":{"value":"›"}}}
]}
]
}
